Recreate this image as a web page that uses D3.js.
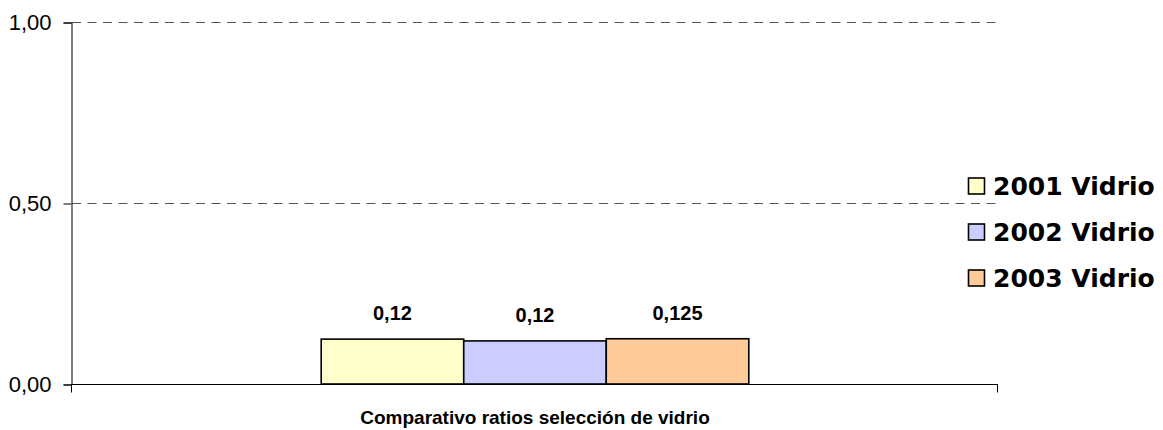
<!DOCTYPE html>
<html><head><meta charset="utf-8">
<script src="https://cdn.jsdelivr.net/npm/d3@7"></script>
<style>
html,body{margin:0;padding:0;background:#fff;}
svg{display:block;}
</style></head>
<body>
<svg id="chart" width="1163" height="430"></svg>
<script>
const categories = ["Comparativo ratios selección de vidrio"];
const seriesNames = ["2001 Vidrio", "2002 Vidrio", "2003 Vidrio"];
const seriesValues = [0.124, 0.119, 0.125];
const valueLabels = ["0,12", "0,12", "0,125"];
const seriesColors = ["#FFFFCC", "#CCCCFF", "#FFCC99"];
const yTicks = [0, 0.5, 1];
const yTickLabels = ["0,00", "0,50", "1,00"];

(function () {
const svg = d3.select("#chart");
const narrow = "'Liberation Sans Narrow','Arial Narrow','Liberation Sans',Arial,sans-serif";

const pl = 72, pr = 998, pt = 22, pb = 384;
const y = d3.scaleLinear().domain([0, 1]).range([pb, pt]);
const x = d3.scaleBand().domain(categories).range([pl, pr]).paddingInner(0).paddingOuter(0.5828);
const xs = d3.scaleBand().domain(seriesNames).range([0, x.bandwidth()]).padding(0);

// gridlines
svg.append("g").selectAll("line").data(yTicks.filter(d => d > 0)).join("line")
  .attr("x1", pl).attr("x2", pr)
  .attr("y1", d => y(d) + 0.5).attr("y2", d => y(d) + 0.5)
  .attr("stroke", "#555").attr("stroke-width", 1)
  .attr("stroke-dasharray", "9,6.5");

// y axis
const yAxis = d3.axisLeft(y).tickValues(yTicks).tickSize(8).tickPadding(12)
  .tickFormat((d, i) => yTickLabels[i]);
const gy = svg.append("g").attr("transform", `translate(${pl - 0.5},0.5)`).call(yAxis);
gy.select(".domain").attr("stroke", "#000");
gy.selectAll(".tick line").attr("stroke", "#000");
gy.selectAll("text").attr("font-family", narrow).attr("font-size", 22).attr("fill", "#000");

// x axis
const gx = svg.append("g").attr("transform", `translate(0,${pb + 0.5})`);
gx.append("line").attr("x1", pl - 1).attr("x2", pr).attr("stroke", "#000");
gx.selectAll("line.tk").data([pl, pr]).join("line").attr("class", "tk")
  .attr("x1", d => d - 0.5).attr("x2", d => d - 0.5).attr("y1", 0).attr("y2", 8).attr("stroke", "#000");

// bars
const gb = svg.append("g").attr("transform", `translate(${x(categories[0])},0)`);
gb.selectAll("rect").data(seriesValues).join("rect")
  .attr("x", (d, i) => xs(seriesNames[i]))
  .attr("y", d => y(d))
  .attr("width", xs.bandwidth())
  .attr("height", d => y(0) - y(d))
  .attr("fill", (d, i) => seriesColors[i])
  .attr("stroke", "#000").attr("stroke-width", 1.6);

gb.selectAll("text").data(seriesValues).join("text")
  .attr("x", (d, i) => xs(seriesNames[i]) + xs.bandwidth() / 2)
  .attr("y", d => y(d) - 19)
  .attr("text-anchor", "middle")
  .attr("font-family", narrow).attr("font-weight", "bold").attr("font-size", 20)
  .text((d, i) => valueLabels[i]);

// x title
svg.append("text")
  .attr("x", x(categories[0]) + x.bandwidth() / 2).attr("y", 424)
  .attr("text-anchor", "middle")
  .attr("font-family", narrow).attr("font-weight", "bold").attr("font-size", 19)
  .text(categories[0]);

// legend
const lg = svg.append("g");
const rowY = [186, 232, 278];
seriesNames.forEach((name, i) => {
  lg.append("rect").attr("x", 968.5).attr("y", rowY[i] - 8).attr("width", 16).attr("height", 16)
    .attr("fill", seriesColors[i]).attr("stroke", "#000").attr("stroke-width", 1.6);
  lg.append("text").attr("x", 993).attr("y", rowY[i]).attr("dy", "0.36em")
    .attr("font-family", "'DejaVu Sans',Verdana,sans-serif").attr("font-weight", "bold").attr("font-size", 25)
    .text(name);
});
})();
</script>
</body></html>
